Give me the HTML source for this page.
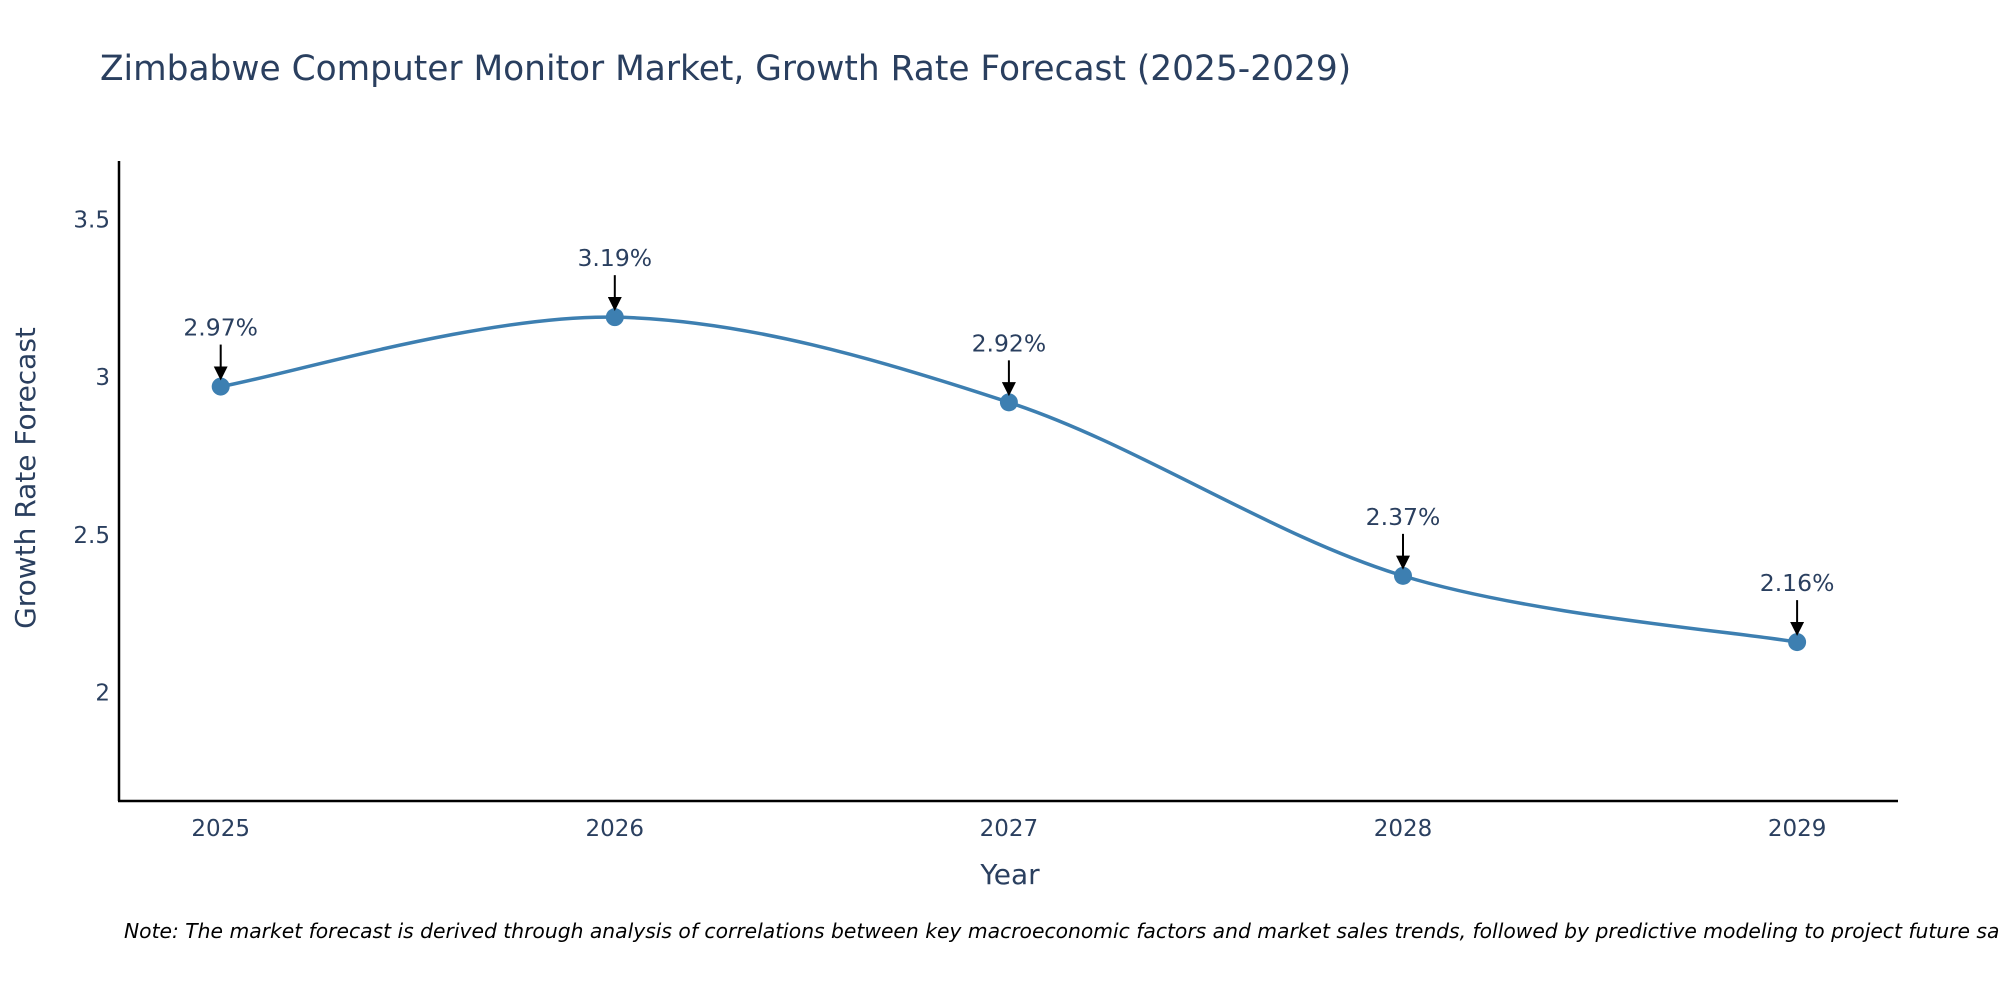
<!DOCTYPE html>
<html><head><meta charset="utf-8"><style>
body{margin:0;background:#fff;font-family:"Liberation Sans","DejaVu Sans",sans-serif;}
svg text{font-family:"DejaVu Sans","Liberation Sans",sans-serif;fill:#2a3f5f;}
</style></head><body>
<svg id="chart" width="2000" height="1000">
<defs><marker id="ah" viewBox="0 0 10 10" refX="8" refY="5" markerWidth="7" markerHeight="7" orient="auto"><path d="M0,0L10,5L0,10z" fill="#000"/></marker></defs>
<text x="100" y="80" font-size="34.4">Zimbabwe Computer Monitor Market, Growth Rate Forecast (2025-2029)</text>
<g id="yticks"></g><g id="xticks"></g>
<line x1="119" y1="161" x2="119" y2="801" stroke="#000" stroke-width="2.5"/>
<line x1="118" y1="801" x2="1898" y2="801" stroke="#000" stroke-width="2.5"/>
<path id="line" fill="none" stroke="#3d7fb1" stroke-width="3.5"/>
<g id="pts"></g><g id="ann"></g>
<text x="1010" y="884" font-size="28" text-anchor="middle">Year</text>
<text transform="translate(35,478) rotate(-90)" font-size="28" text-anchor="middle">Growth Rate Forecast</text>
<text x="124" y="938" font-size="20.3" font-style="italic" style="fill:#000">Note: The market forecast is derived through analysis of correlations between key macroeconomic factors and market sales trends, followed by predictive modeling to project future sales.</text>
</svg>
<script>
const years=[2025,2026,2027,2028,2029];
const values=[2.97,3.19,2.92,2.37,2.16];
const labels=["2.97%","3.19%","2.92%","2.37%","2.16%"];
const yTicks=[2,2.5,3,3.5];
const ns="http://www.w3.org/2000/svg";
const X=v=>220.7+(v-2025)*394.1;
const Y=v=>692.6-(v-2)*315.5;
function mk(t,a,p){const e=document.createElementNS(ns,t);for(const k in a)e.setAttribute(k,a[k]);p.appendChild(e);return e;}
const yt=document.getElementById('yticks');
yTicks.forEach(v=>{const t=mk('text',{x:110,y:Y(v)+8,'font-size':23,'text-anchor':'end'},yt);


t.textContent=String(v);});
const xt=document.getElementById('xticks');
years.forEach(v=>{const t=mk('text',{x:X(v),y:836,'font-size':23,'text-anchor':'middle'},xt);


t.textContent=String(v);});
const P=years.map((y,i)=>[X(y),Y(values[i])]);
let d=`M${P[0][0]},${P[0][1]}`;const s=0.33;
for(let i=0;i<P.length-1;i++){const p0=P[i-1]||P[i],p1=P[i],p2=P[i+1],p3=P[i+2]||P[i+1];
d+=` C${p1[0]+(p2[0]-p0[0])*s/2},${p1[1]+(p2[1]-p0[1])*s/2} ${p2[0]-(p3[0]-p1[0])*s/2},${p2[1]-(p3[1]-p1[1])*s/2} ${p2[0]},${p2[1]}`;}
document.getElementById('line').setAttribute('d',d);
const pts=document.getElementById('pts'),ann=document.getElementById('ann');
P.forEach((p,i)=>{const c=mk('circle',{cx:p[0],cy:p[1],r:9,fill:'#3d7fb1'},pts);


const l=mk('line',{x1:p[0],y1:p[1]-42,x2:p[0],y2:p[1]-9,stroke:'#000','stroke-width':2,'marker-end':'url(#ah)'},ann);


const t=mk('text',{x:p[0],y:p[1]-51,'font-size':23.5,'text-anchor':'middle'},ann);


t.textContent=labels[i];});
</script>
</body></html>
